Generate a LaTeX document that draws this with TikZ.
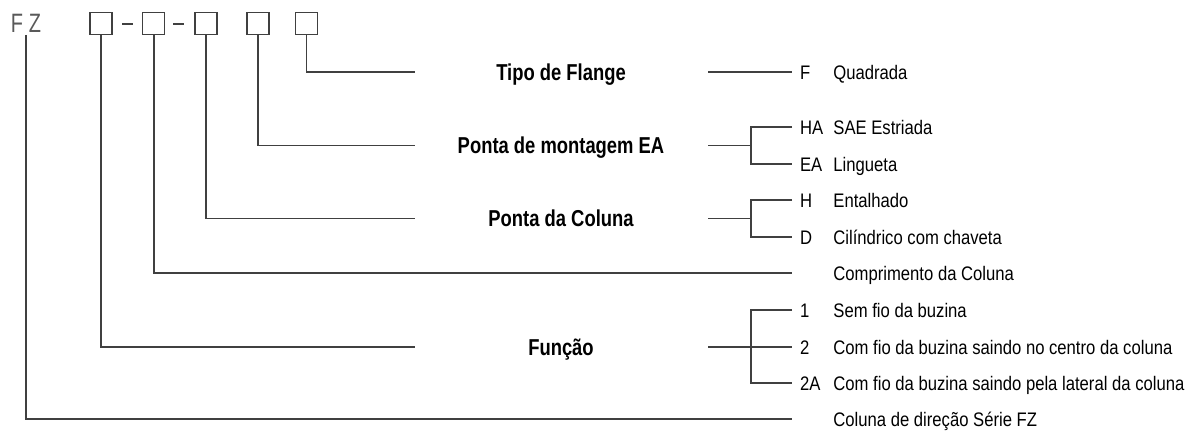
\documentclass[tikz,border=0pt]{standalone}
\usepackage{fontspec}
\setmainfont[FakeStretch=0.85]{Liberation Sans}
\newfontfamily\fzfont[FakeStretch=0.75]{Liberation Sans}
\newfontfamily\grpfont[FakeStretch=0.8]{Liberation Sans}
\usepackage{tikz}
\usetikzlibrary{positioning}

\tikzset{
  slot/.style={draw=black!75, line width=0.8pt, minimum size=11pt, inner sep=0pt},
  wire/.style={draw=black!75, line width=0.9pt},
  grp/.style={font=\fontsize{11.5}{13}\grpfont\bfseries, text height=8.2pt, text depth=0pt, inner sep=0pt},
  code/.style={anchor=west, font=\fontsize{9.8}{12}\selectfont, text height=7pt, text depth=0pt, inner sep=0pt, outer xsep=4pt},
  desc/.style={anchor=west, font=\fontsize{9.8}{12}\selectfont, text height=7pt, text depth=0pt, inner sep=0pt}
}

\begin{document}
\begin{tikzpicture}[x=0.5pt, y=-0.5pt]
        \useasboundingbox (0,0) rectangle (1200,436);

        % model code and its slots
        \node[font=\fontsize{13.3}{14}\fzfont, text=black!65, inner sep=1pt, text height=9.5pt, text depth=0pt] (fz) at (26,23) {F\hspace{3pt}Z};
        \node[slot] (s1) at (101,23.3) {};
        \node[slot] (s2) [right=14.5pt of s1] {};
        \node[slot] (s3) [right=14.5pt of s2] {};
        \node[slot] (s4) [right=14pt of s3] {};
        \node[slot] (s5) [right=12.5pt of s4] {};
        \draw[wire] (122,24) -- (133,24);
        \draw[wire] (173,24) -- (184,24);

        % groups
        \node[grp] (tipo) at (561,72) {Tipo de Flange};
        \node[grp] (monta) at (561,145.5) {Ponta de montagem EA};
        \node[grp] (ponta) at (561,218.5) {Ponta da Coluna};
        \node[grp] (func) at (561,347) {Função};

        % codes
        \node[code] (cF) at (792,72) {F};
        \node[code] (cHA) at (792,127) {HA};
        \node[code] (cEA) at (792,164) {EA};
        \node[code] (cH) at (792,200) {H};
        \node[code] (cD) at (792,237) {D};
        \node[code] (c1) at (792,310) {1};
        \node[code] (c2) at (792,347) {2};
        \node[code] (c2A) at (792,383) {2A};

        % meanings
        \node[desc] (dF) at (833,72) {Quadrada};
        \node[desc] (dHA) at (833,127) {SAE Estriada};
        \node[desc] (dEA) at (833,164) {Lingueta};
        \node[desc] (dH) at (833,200) {Entalhado};
        \node[desc] (dD) at (833,237) {Cilíndrico com chaveta};
        \node[desc] (dComp) at (833,273) {Comprimento da Coluna};
        \node[desc] (d1) at (833,310) {Sem fio da buzina};
        \node[desc] (d2) at (833,347) {Com fio da buzina saindo no centro da coluna};
        \node[desc] (d2A) at (833,383) {Com fio da buzina saindo pela lateral da coluna};
        \node[desc] (dCol) at (833,419) {Coluna de direção Série FZ};

        % line ends
        \coordinate (l5) at (415,72);
        \coordinate (l4) at (415,145.5);
        \coordinate (l3) at (415,218.5);
        \coordinate (l1) at (415,347);
        \coordinate (r5) at (708,72);
        \coordinate (r4) at (708,145.5);
        \coordinate (r3) at (708,218.5);
        \coordinate (r1) at (708,347);
        \coordinate (j4) at (751,145.5);
        \coordinate (j3) at (751,218.5);
        \coordinate (j1) at (751,347);
        \coordinate (e2) at (792,273);
        \coordinate (e0) at (792,419);

        % from slots down to the groups
        \draw[wire] (s5.south) |- (l5);
        \draw[wire] (s4.south) |- (l4);
        \draw[wire] (s3.south) |- (l3);
        \draw[wire] (s2.south) |- (e2);
        \draw[wire] (s1.south) |- (l1);
        \draw[wire] (fz.south) |- (e0);

        % from groups to the codes
        \draw[wire] (r5) -- (cF.west);
        \draw[wire] (r4) -- (j4);
        \draw[wire] (cHA.west) -| (j4) |- (cEA.west);
        \draw[wire] (r3) -- (j3);
        \draw[wire] (cH.west) -| (j3) |- (cD.west);
        \draw[wire] (r1) -- (c2.west);
        \draw[wire] (c1.west) -| (j1) |- (c2A.west);
\end{tikzpicture}
\end{document}
